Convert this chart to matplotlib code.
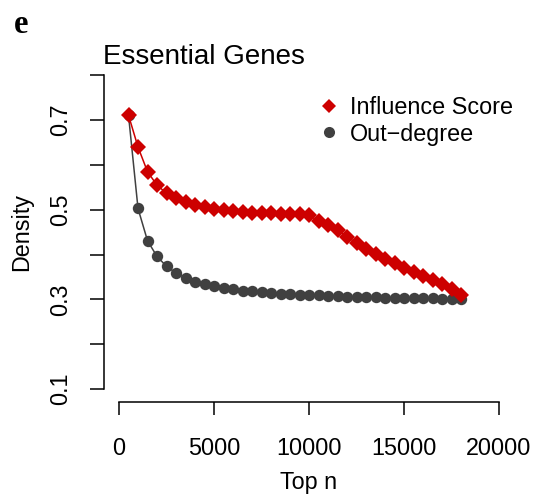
import matplotlib
matplotlib.use("Agg")
import matplotlib.pyplot as plt
from matplotlib.lines import Line2D

plt.rcParams['font.family'] = ['Liberation Sans', 'DejaVu Sans']

top_n = [500, 1000, 1500, 2000, 2500, 3000, 3500, 4000, 4500, 5000,
         5500, 6000, 6500, 7000, 7500, 8000, 8500, 9000, 9500, 10000,
         10500, 11000, 11500, 12000, 12500, 13000, 13500, 14000, 14500, 15000,
         15500, 16000, 16500, 17000, 17500, 18000]

influence = [0.711, 0.640, 0.585, 0.555, 0.537, 0.526, 0.517, 0.511, 0.506, 0.502,
             0.499, 0.497, 0.495, 0.494, 0.493, 0.492, 0.491, 0.491, 0.490, 0.488,
             0.475, 0.466, 0.455, 0.440, 0.426, 0.413, 0.402, 0.391, 0.381, 0.371,
             0.361, 0.352, 0.343, 0.334, 0.323, 0.310]

outdegree = [0.711, 0.503, 0.431, 0.396, 0.374, 0.359, 0.348, 0.340, 0.335, 0.330,
             0.326, 0.323, 0.320, 0.318, 0.316, 0.314, 0.313, 0.312, 0.311, 0.310,
             0.309, 0.308, 0.307, 0.306, 0.306, 0.305, 0.305, 0.304, 0.304, 0.304,
             0.303, 0.303, 0.303, 0.302, 0.302, 0.300]

x_ticks = [0, 5000, 10000, 15000, 20000]
y_ticks = [0.1, 0.2, 0.3, 0.4, 0.5, 0.6, 0.7, 0.8]
y_labels = ['0.1', '', '0.3', '', '0.5', '', '0.7', '']

RED = '#CD0000'
GREY = '#404040'
FS = 16.8

fig = plt.figure(figsize=(5.34, 4.98), dpi=100)
ax = fig.add_axes([0.1944, 0.1934, 0.963 - 0.1944, 0.8739 - 0.1934])

ax.plot(top_n, outdegree, color=GREY, lw=1.1, marker='o', ms=8.2,
        markeredgewidth=0, zorder=3)
ax.plot(top_n, influence, color=RED, lw=1.1, marker='D', ms=8.5,
        markeredgewidth=0, zorder=4)

ax.set_xlim(-800, 20800)
ax.set_ylim(0.072, 0.828)

for s in ('top', 'right'):
    ax.spines[s].set_visible(False)
ax.spines['left'].set_bounds(0.1, 0.8)
ax.spines['bottom'].set_bounds(0, 20000)
for s in ('left', 'bottom'):
    ax.spines[s].set_linewidth(1.1)

ax.set_xticks(x_ticks)
ax.set_xticklabels([str(v) for v in x_ticks], fontsize=FS)
ax.set_yticks(y_ticks)
ax.set_yticklabels(y_labels, fontsize=FS, rotation=90, va='center')
ax.tick_params(axis='x', direction='out', length=9.5, width=1.1, pad=16)
ax.tick_params(axis='y', direction='out', length=10, width=1.1, pad=12.5)

ax.set_xlabel('Top n', fontsize=FS, labelpad=8)
ax.set_ylabel('Density', fontsize=FS, labelpad=12)

fig.text(103 / 534, 1 - 64 / 498, 'Essential Genes',
         fontsize=20, ha='left', va='baseline')
fig.text(14 / 534, 1 - 33 / 498, 'e', fontsize=23.5, fontweight='bold',
         family=['Liberation Serif', 'DejaVu Serif'], ha='left', va='baseline')

handles = [
    Line2D([], [], color=RED, marker='D', ls='none', ms=7.5, markeredgewidth=0),
    Line2D([], [], color=GREY, marker='o', ls='none', ms=8, markeredgewidth=0),
]
ax.legend(handles, ['Influence Score', 'Out\u2212degree'], frameon=False,
          fontsize=FS, loc='upper left', bbox_to_anchor=(0.498, 0.929),
          handlelength=1.0, handletextpad=0.4, labelspacing=0.143,
          borderaxespad=0)

fig.savefig('out.png', dpi=100)
